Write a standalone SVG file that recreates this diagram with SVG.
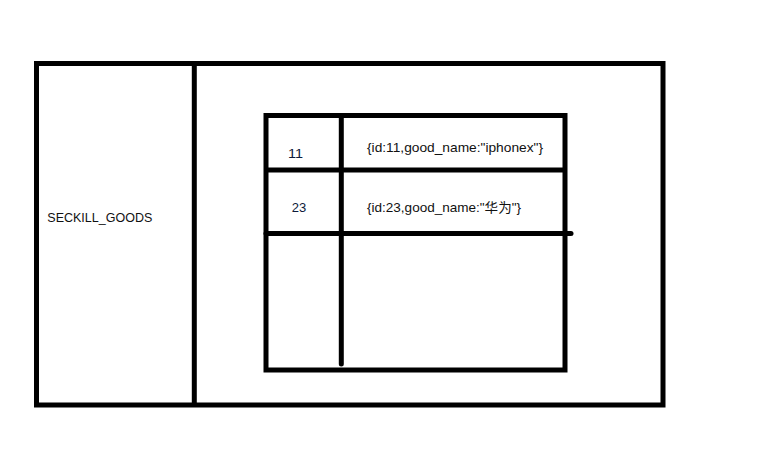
<svg xmlns="http://www.w3.org/2000/svg" width="758" height="468" viewBox="0 0 758 468">
<style>
.ln{fill:none;stroke:#000;stroke-width:5}
.t{font-family:"Liberation Sans","Noto Sans CJK SC",sans-serif;font-size:13px;fill:#111}
.n{fill:#0d1a3a}
</style>
<rect width="758" height="468" fill="#fff"/>
<g id="table-node">
<rect class="ln" x="36.5" y="63.5" width="626.5" height="341.5"/>
<line class="ln" x1="194.3" y1="63.5" x2="194.3" y2="405"/>
<text class="t" x="47.3" y="221.7" textLength="105" lengthAdjust="spacingAndGlyphs">SECKILL_GOODS</text>
</g>
<g id="hash-node">
<rect class="ln" x="266" y="115.5" width="299" height="254.5"/>
<line class="ln" x1="341.3" y1="115.5" x2="341.3" y2="364" stroke-linecap="round"/>
<line class="ln" x1="266" y1="170" x2="565" y2="170"/>
<line class="ln" x1="266" y1="233.5" x2="571" y2="233.5" stroke-linecap="round"/>
<text class="t n" x="288" y="157.5" textLength="15" lengthAdjust="spacingAndGlyphs">11</text>
<text class="t" x="367" y="152.3" textLength="176" lengthAdjust="spacingAndGlyphs">{id:11,good_name:"iphonex"}</text>
<text class="t n" x="291.7" y="211.7" textLength="14.5" lengthAdjust="spacingAndGlyphs">23</text>
<text class="t" x="367" y="211.7" textLength="154" lengthAdjust="spacingAndGlyphs">{id:23,good_name:"华为"}</text>
</g>
<g id="connectors"></g>
</svg>
